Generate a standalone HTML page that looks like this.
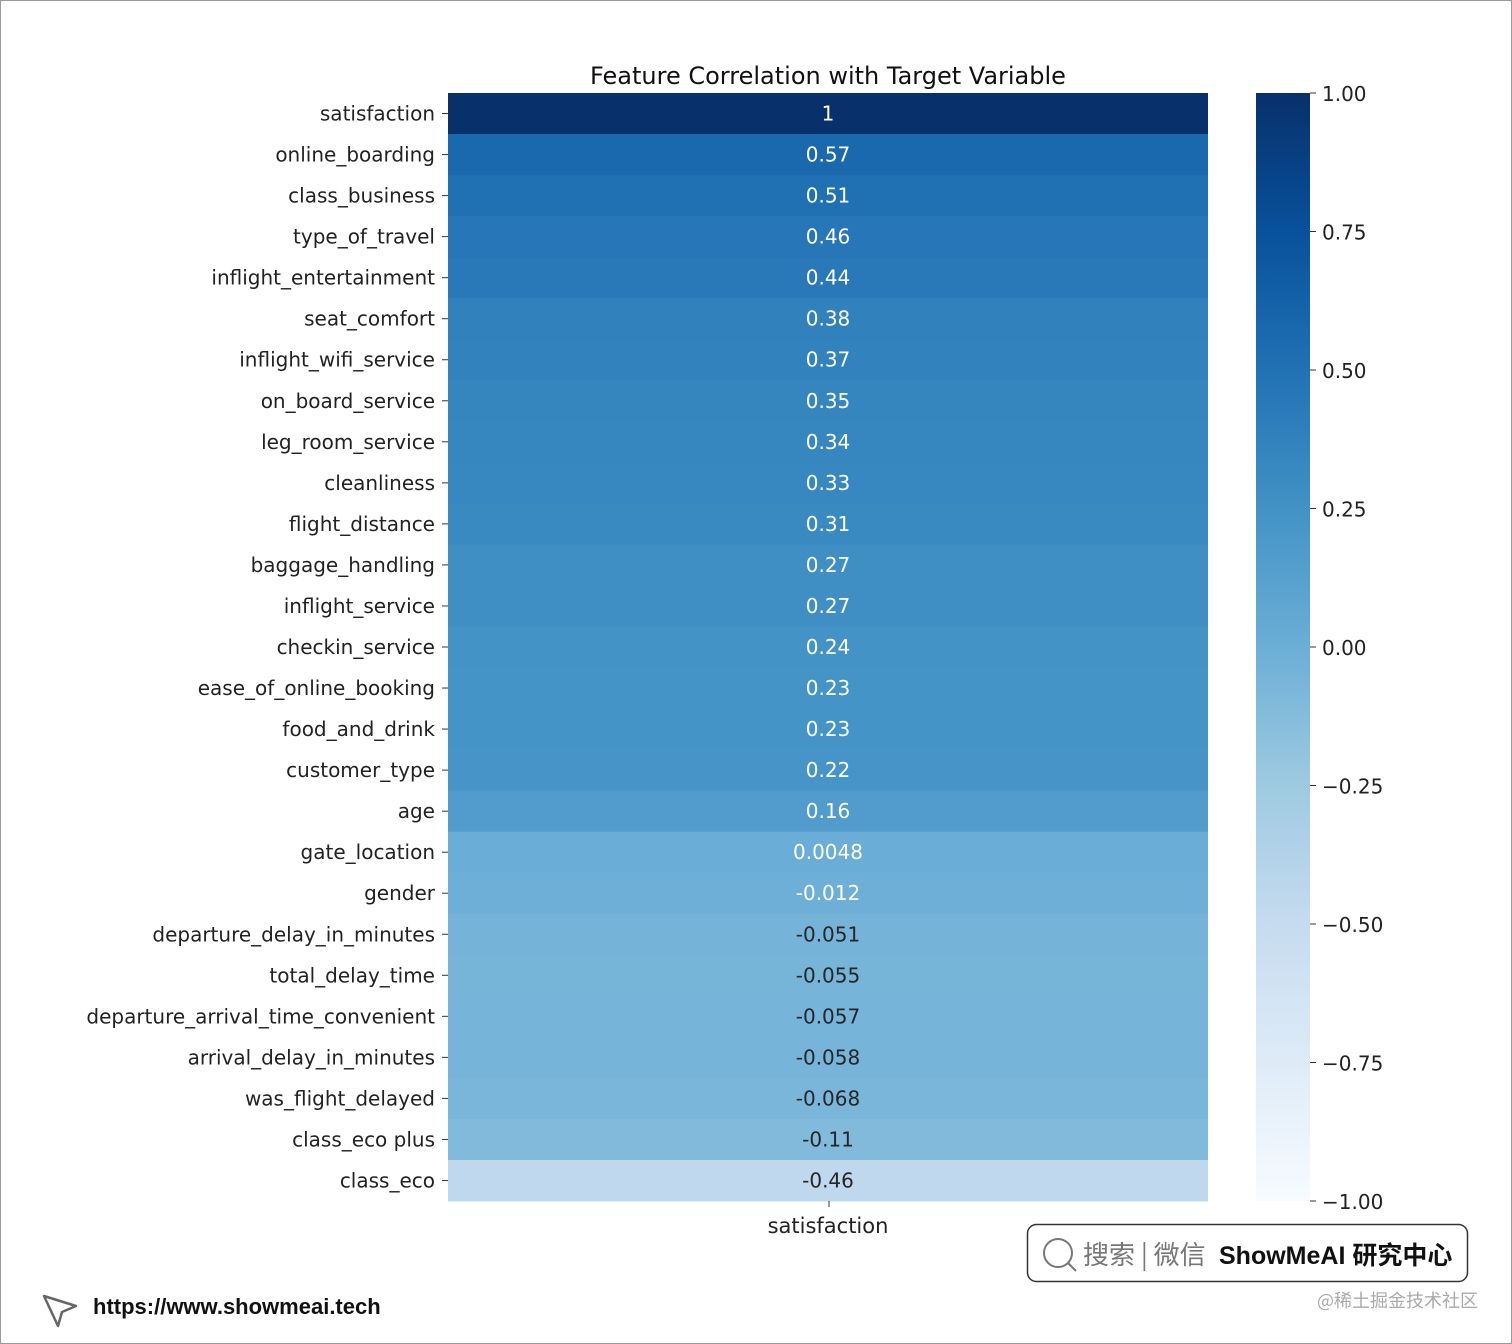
<!DOCTYPE html>
<html><head><meta charset="utf-8"><style>
html,body{margin:0;padding:0;background:#fff;}
svg{display:block;font-family:"DejaVu Sans","Liberation Sans","Noto Sans CJK SC",sans-serif;}
</style></head><body>
<svg id="chart" width="1512" height="1344" viewBox="0 0 1512 1344">
<rect x="0.5" y="0.5" width="1511" height="1343" fill="#fff" stroke="#9a9a9a"/>
<text x="828" y="84" font-size="24" text-anchor="middle" fill="#111">Feature Correlation with Target Variable</text>
<g id="cells"></g>
<g id="ylabels"></g>
<defs><linearGradient id="cbgrad" x1="0" y1="1" x2="0" y2="0"></linearGradient></defs>
<rect id="cbar" x="1256" y="93" width="54" height="1108" fill="url(#cbgrad)"/>
<g id="cbticks"></g>
<line x1="829" y1="1201" x2="829" y2="1207" stroke="#333"/>
<text x="828" y="1233" font-size="21" text-anchor="middle" fill="#222">satisfaction</text>
<g>
<rect x="1027.5" y="1224.5" width="440" height="57" rx="9" fill="#fff" stroke="#333" stroke-width="1.5"/>
<circle cx="1058" cy="1253" r="14" fill="none" stroke="#777" stroke-width="2"/>
<line x1="1068" y1="1263" x2="1076" y2="1271" stroke="#777" stroke-width="2"/>
<text x="1083" y="1264" font-size="26" fill="#777" font-family="Noto Sans CJK SC, sans-serif">搜索 | 微信</text>
<text x="1219" y="1264" font-size="25" fill="#111" font-weight="bold" font-family="Liberation Sans, Noto Sans CJK SC, sans-serif">ShowMeAI 研究中心</text>
</g>
<text x="1478" y="1307" font-size="18" text-anchor="end" fill="#aaa" font-family="Noto Sans CJK SC, sans-serif">@稀土掘金技术社区</text>
<g><path d="M44 1296 L76 1306 L62 1312 L58 1326 Z" fill="none" stroke="#666" stroke-width="2.5" stroke-linejoin="round"/></g>
<text x="93" y="1314" font-size="22" fill="#111" font-weight="bold" font-family="Liberation Sans, sans-serif">https://www.showmeai.tech</text>
</svg>
<script>
const features=["satisfaction","online_boarding","class_business","type_of_travel","inflight_entertainment","seat_comfort","inflight_wifi_service","on_board_service","leg_room_service","cleanliness","flight_distance","baggage_handling","inflight_service","checkin_service","ease_of_online_booking","food_and_drink","customer_type","age","gate_location","gender","departure_delay_in_minutes","total_delay_time","departure_arrival_time_convenient","arrival_delay_in_minutes","was_flight_delayed","class_eco plus","class_eco"];
const values=[1,0.57,0.51,0.46,0.44,0.38,0.37,0.35,0.34,0.33,0.31,0.27,0.27,0.24,0.23,0.23,0.22,0.16,0.0048,-0.012,-0.051,-0.055,-0.057,-0.058,-0.068,-0.11,-0.46];
const valueLabels=["1","0.57","0.51","0.46","0.44","0.38","0.37","0.35","0.34","0.33","0.31","0.27","0.27","0.24","0.23","0.23","0.22","0.16","0.0048","-0.012","-0.051","-0.055","-0.057","-0.058","-0.068","-0.11","-0.46"];
const cbTicks=[1,0.75,0.5,0.25,0,-0.25,-0.5,-0.75,-1];
const cbTickLabels=["1.00","0.75","0.50","0.25","0.00","\u22120.25","\u22120.50","\u22120.75","\u22121.00"];
const NS="http://www.w3.org/2000/svg";
const stops=["#f7fbff","#deebf7","#c6dbef","#9ecae1","#6baed6","#4292c6","#2171b5","#08519c","#08306b"];
const X0=448,X1=1208,Y0=93,Y1=1201,vmin=-1,vmax=1;
const rowH=(Y1-Y0)/features.length;
function yBand(i){return Y0+i*rowH;}
function hex(h){return [1,3,5].map(k=>parseInt(h.substr(k,2),16));}
function cmap(v){let t=(v-vmin)/(vmax-vmin);t=Math.max(0,Math.min(1,t));const p=t*8,i=Math.min(7,Math.floor(p)),f=p-i;const a=hex(stops[i]),b=hex(stops[i+1]);return a.map((c,k)=>Math.round(c+(b[k]-c)*f));}
function lum(rgb){const c=rgb.map(x=>{x/=255;return x<=0.03928?x/12.92:Math.pow((x+0.055)/1.055,2.4);});return 0.2126*c[0]+0.7152*c[1]+0.0722*c[2];}
function cbY(v){return Y1-(v-vmin)/(vmax-vmin)*(Y1-Y0);}
const cells=document.getElementById('cells'),yl=document.getElementById('ylabels');
features.forEach((f,i)=>{
 const rgb=cmap(values[i]);
 const r=document.createElementNS(NS,'rect');
 r.setAttribute('x',X0);r.setAttribute('y',yBand(i));r.setAttribute('width',X1-X0);r.setAttribute('height',rowH+0.5);
 r.setAttribute('fill','rgb('+rgb.join(',')+')');
 
 
 cells.appendChild(r);
 const t=document.createElementNS(NS,'text');
 t.setAttribute('x',(X0+X1)/2);t.setAttribute('y',yBand(i)+rowH/2+7);t.setAttribute('text-anchor','middle');t.setAttribute('font-size','20');
 t.setAttribute('fill',lum(rgb)>0.408?'#262626':'#ffffff');
 t.textContent=valueLabels[i];
 
 
 cells.appendChild(t);
 const l=document.createElementNS(NS,'text');
 l.setAttribute('x',435);l.setAttribute('y',yBand(i)+rowH/2+7);l.setAttribute('text-anchor','end');l.setAttribute('font-size','20');l.setAttribute('fill','#222');
 l.textContent=f;
 
 
 yl.appendChild(l);
 const tk=document.createElementNS(NS,'line');
 tk.setAttribute('x1',442);tk.setAttribute('x2',448);tk.setAttribute('y1',yBand(i)+rowH/2);tk.setAttribute('y2',yBand(i)+rowH/2);tk.setAttribute('stroke','#333');
 
 
 yl.appendChild(tk);
});
const g=document.getElementById('cbgrad');
stops.forEach((s,i)=>{const st=document.createElementNS(NS,'stop');st.setAttribute('offset',i/8);st.setAttribute('stop-color',s);g.appendChild(st);});
const cbt=document.getElementById('cbticks');
cbTicks.forEach((v,i)=>{
 const y=cbY(v);
 const tk=document.createElementNS(NS,'line');
 tk.setAttribute('x1',1310);tk.setAttribute('x2',1316);tk.setAttribute('y1',y);tk.setAttribute('y2',y);tk.setAttribute('stroke','#333');
 
 
 cbt.appendChild(tk);
 const t=document.createElementNS(NS,'text');
 t.setAttribute('x',1322);t.setAttribute('y',y+8);t.setAttribute('font-size','20');t.setAttribute('fill','#222');
 t.textContent=cbTickLabels[i];
 
 
 cbt.appendChild(t);
});
</script>
</body></html>
